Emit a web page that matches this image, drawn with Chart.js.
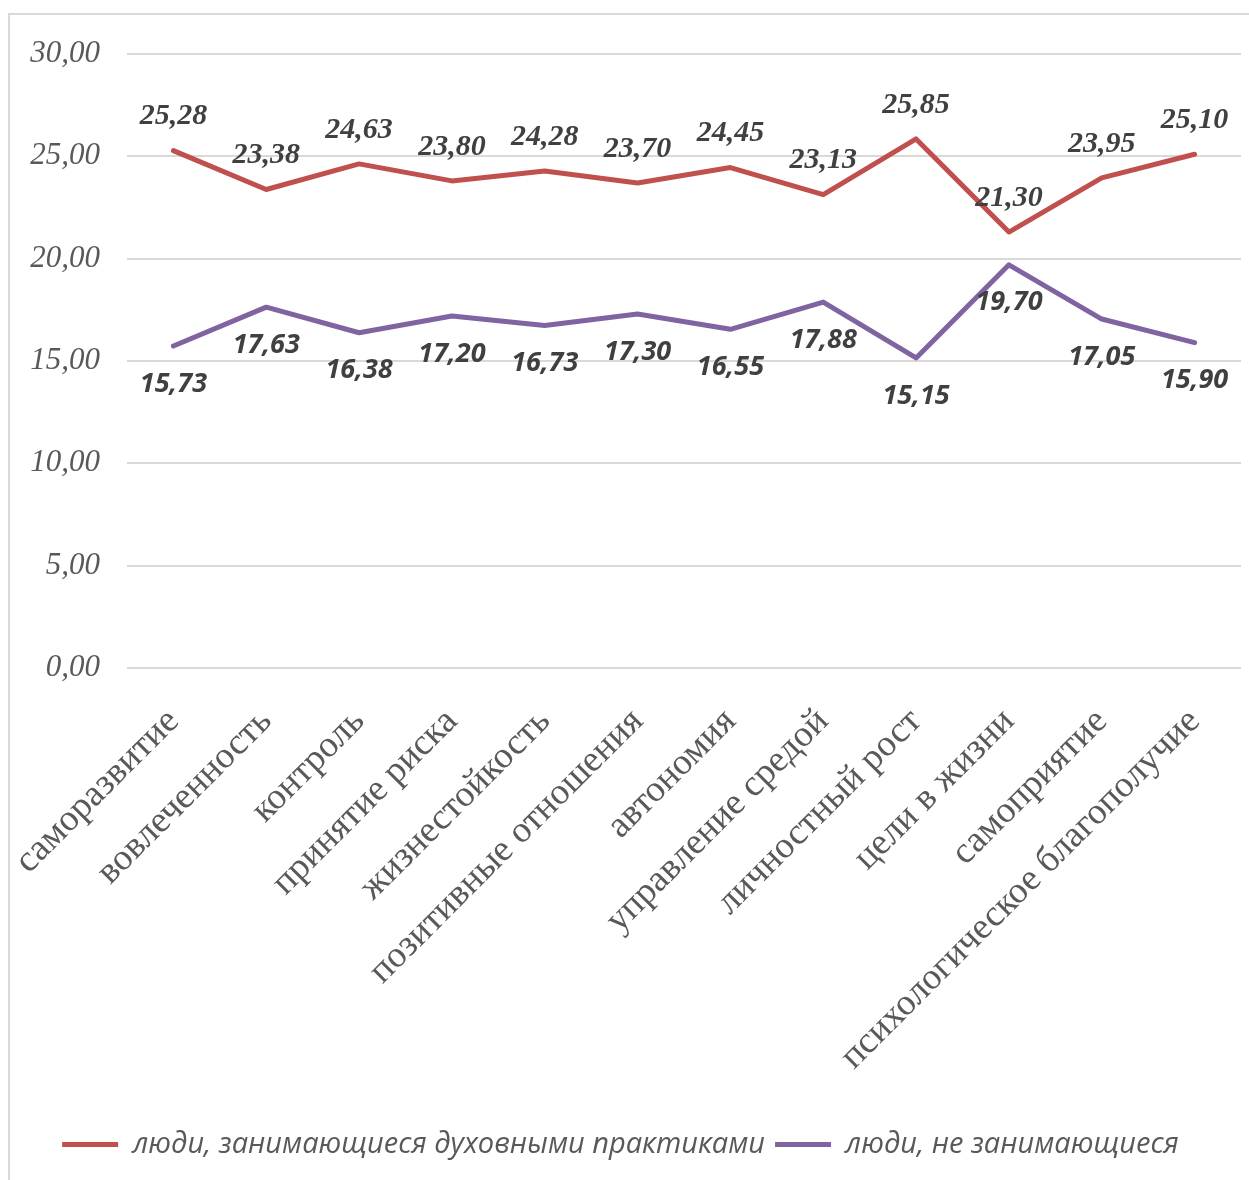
<!DOCTYPE html>
<html>
<head>
<meta charset="utf-8">
<script src="https://cdn.jsdelivr.net/npm/chart.js@4/dist/chart.umd.min.js"></script>
<style>
  html, body { margin: 0; padding: 0; background: #fff; overflow: hidden; }
  #frame { position: absolute; left: 8px; top: 13px; width: 1300px; height: 1300px; border: 2px solid #d9d9d9; box-sizing: border-box; }
  #wrap { position: absolute; left: 0; top: 0; width: 1249px; height: 1180px; }
</style>
</head>
<body>
<div id="frame"></div>
<div id="wrap"><canvas id="c" width="1249" height="1180"></canvas></div>
<script>
// Шкалы психологического благополучия / жизнестойкости: две группы
const categories = [
  'саморазвитие', 'вовлеченность', 'контроль', 'принятие риска', 'жизнестойкость',
  'позитивные отношения', 'автономия', 'управление средой', 'личностный рост',
  'цели в жизни', 'самоприятие', 'психологическое благополучие',
];
const practicing = [25.28, 23.38, 24.63, 23.80, 24.28, 23.70, 24.45, 23.13, 25.85, 21.30, 23.95, 25.10];
const notPracticing = [15.73, 17.63, 16.38, 17.20, 16.73, 17.30, 16.55, 17.88, 15.15, 19.70, 17.05, 15.90];
const seriesNames = ['люди, занимающиеся духовными практиками', 'люди, не занимающиеся'];

const RED = '#c0504d';
const PURPLE = '#8064a2';
const GRID = '#d9d9d9';
const TEXT = '#595959';
const SERIF = '"Liberation Serif", "Times New Roman", serif';

const fmt = (v) => v.toFixed(2).replace('.', ',');

// подписи значений: красные над точкой (serif), фиолетовые под точкой (sans)
const valueLabels = {
  id: 'valueLabels',
  afterDatasetsDraw(chart) {
    const { ctx } = chart;
    ctx.save();
    ctx.fillStyle = '#404040';
    ctx.textAlign = 'center';
    ctx.textBaseline = 'middle';
    chart.data.datasets.forEach((ds, di) => {
      const meta = chart.getDatasetMeta(di);
      ctx.font = di === 0
        ? 'italic bold 30px ' + SERIF
        : 'italic bold 27px "Open Sans", sans-serif';
      meta.data.forEach((pt, i) => {
        const dy = di === 0 ? -34 : 38;
        ctx.fillText(fmt(ds.data[i]), pt.x, pt.y + dy);
      });
    });
    ctx.restore();
  },
};

new Chart(document.getElementById('c'), {
  type: 'line',
  data: {
    labels: categories,
    datasets: [
      { label: seriesNames[0], data: practicing, borderColor: RED, backgroundColor: RED },
      { label: seriesNames[1], data: notPracticing, borderColor: PURPLE, backgroundColor: PURPLE },
    ].map((d) => ({
      ...d,
      borderWidth: 5,
      pointRadius: 0,
      tension: 0,
      borderJoinStyle: 'round',
      borderCapStyle: 'round',
      pointStyle: 'line',
    })),
  },
  options: {
    responsive: false,
    animation: false,
    layout: { padding: { top: 54, right: 8, bottom: 11, left: 0 } },
    scales: {
      x: {
        offset: true,
        grid: { display: false, drawTicks: false },
        border: { display: false },
        ticks: {
          color: TEXT,
          minRotation: 45,
          maxRotation: 45,
          padding: 32,
          font: { family: SERIF, size: 37 },
        },
        afterFit(scale) {
          scale.height = 452;
          scale.paddingLeft = 0;
          scale.paddingRight = 0;
        },
      },
      y: {
        min: 0,
        max: 30,
        grid: { color: GRID, lineWidth: 2, drawTicks: false },
        border: { display: false },
        ticks: {
          stepSize: 5,
          color: TEXT,
          padding: 27,
          callback: (v) => fmt(v),
          font: { family: SERIF, size: 31, style: 'italic' },
        },
        afterFit(scale) { scale.width = 127; },
      },
    },
    plugins: {
      tooltip: { enabled: false },
      legend: {
        position: 'bottom',
        labels: {
          color: TEXT,
          usePointStyle: true,
          pointStyleWidth: 56,
          padding: 10,
          font: { family: '"Open Sans", sans-serif', size: 29, style: 'italic' },
        },
      },
    },
  },
  plugins: [valueLabels],
});
</script>
</body>
</html>
